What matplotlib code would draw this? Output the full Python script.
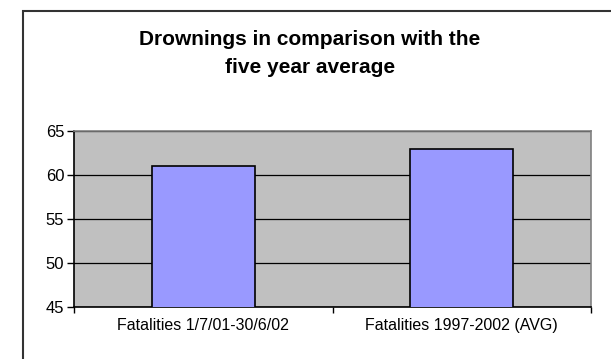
import matplotlib.pyplot as plt
from matplotlib.patches import Rectangle

# chart data
categories = ['Fatalities 1/7/01-30/6/02', 'Fatalities 1997-2002 (AVG)']
drownings = [61, 63]
yticks = [45, 50, 55, 60, 65]

plt.rcParams['font.family'] = ['Liberation Sans', 'DejaVu Sans']

fig = plt.figure(figsize=(6.11, 3.59), dpi=100)

# outer chart border (runs off the right/bottom of the picture)
fig.patches.append(Rectangle((22.5 / 611, -0.1), 1.2, (359 - 11.5) / 359 + 0.1,
                             transform=fig.transFigure, fill=False,
                             edgecolor='#333333', linewidth=1.5))

ax = fig.add_axes([74 / 611, 52 / 359, 517 / 611, 176 / 359])
ax.set_facecolor('#C0C0C0')

pos = [0.5, 1.5]
ax.bar(pos, drownings, width=0.4, bottom=0, color='#9999FF',
       edgecolor='black', linewidth=1.2, zorder=3)

ax.set_ylim(45, 65)
ax.set_xlim(0, 2)
ax.set_yticks(yticks)
ax.yaxis.grid(True, color='black', linewidth=0.9, zorder=1)
ax.set_axisbelow(True)

# category ticks sit between the categories, labels in the middle
ax.set_xticks([0, 1, 2])
ax.set_xticklabels([])
ax.set_xticks(pos, minor=True)
ax.set_xticklabels(categories, minor=True, fontsize=11.5)
ax.tick_params(axis='x', which='minor', length=0, pad=8)
ax.tick_params(axis='x', which='major', length=4, width=1, color='black')
ax.tick_params(axis='y', length=5, width=1, labelsize=12, pad=2)

for s in ['top', 'right']:
    ax.spines[s].set_color('#808080')
    ax.spines[s].set_linewidth(1.2)
for s in ['left', 'bottom']:
    ax.spines[s].set_color('black')
    ax.spines[s].set_linewidth(1.2)

fig.text(0.507, 0.852, 'Drownings in comparison with the\nfive year average',
         ha='center', va='center', fontsize=15, fontweight='bold',
         linespacing=1.6)

fig.savefig('out.png', dpi=100)
